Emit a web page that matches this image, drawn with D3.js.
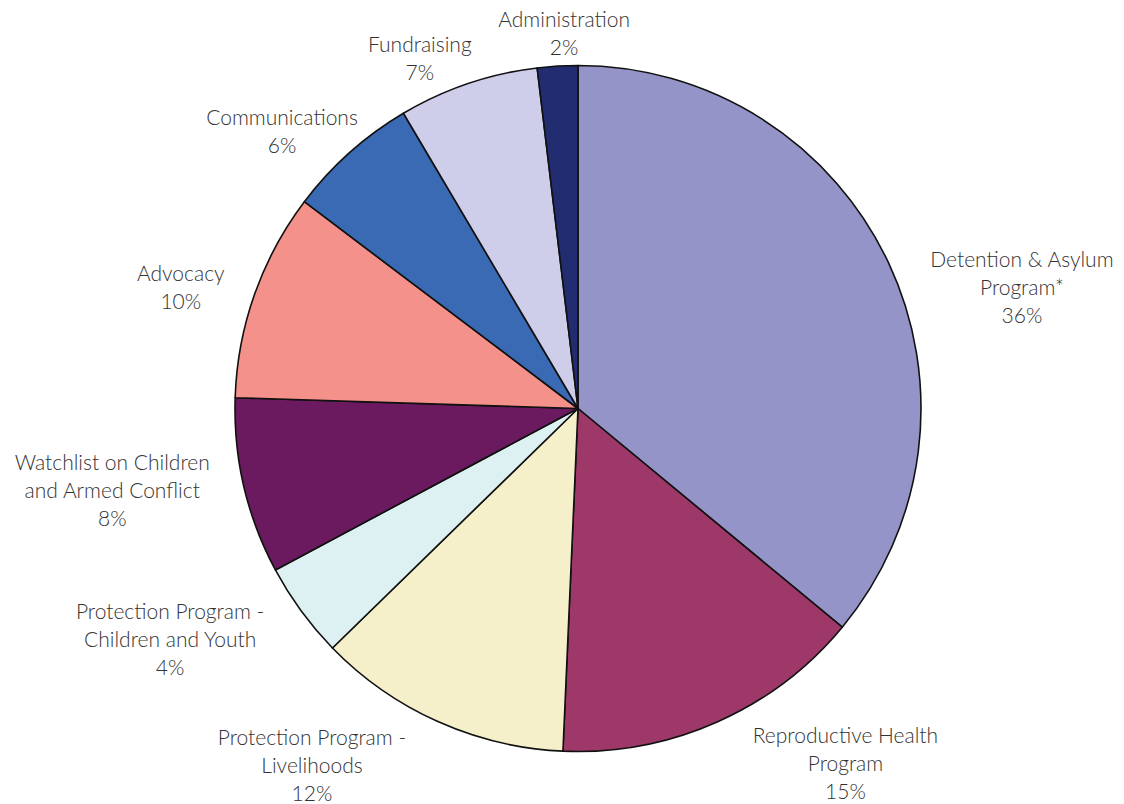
<!DOCTYPE html>
<html>
<head>
<meta charset="utf-8">
<script src="https://cdn.jsdelivr.net/npm/d3@7"></script>
<style>
  html, body { margin: 0; padding: 0; background: #fff; }
  svg text { font-family: Lato, "Open Sans", sans-serif; font-weight: 300; fill: #333; }
</style>
</head>
<body>
<svg id="main_chart" width="1124" height="804"></svg>
<script>
// slices, clockwise from 12 o'clock
const categories = [
  ['Detention & Asylum', 'Program*'],
  ['Reproductive Health', 'Program'],
  ['Protection Program -', 'Livelihoods'],
  ['Protection Program -', 'Children and Youth'],
  ['Watchlist on Children', 'and Armed Conflict'],
  ['Advocacy'],
  ['Communications'],
  ['Fundraising'],
  ['Administration']
];
const shares = [36, 14.7, 12, 4.5, 8.3, 9.8, 6.2, 6.6, 1.9];
const pctLabels = ['36%', '15%', '12%', '4%', '8%', '10%', '6%', '7%', '2%'];
const colors = ['#9494c8', '#9d3868', '#f6f0ca', '#ddf0f2', '#6b1a5f', '#f4918b', '#3a6ab3', '#cecdea', '#222c70'];

// label placement: [degrees added to the slice mid angle, distance from centre]
const labelNudge = [[10, 460], [-13, 445], [12.5, 446], [6.6, 469], [3.1, 473], [-2.6, 415], [-5.2, 405], [-5.6, 384], [1.3, 375]];

const cx = 578, cy = 408.5, radius = 343;
const lineH = 28;

const svg = d3.select('#main_chart');
const g = svg.append('g').attr('transform', 'translate(' + cx + ',' + cy + ')');

const pie = d3.pie().sort(null).value(function(d) { return d; });
const arc = d3.arc().innerRadius(0).outerRadius(radius);
const arcs = pie(shares);

g.selectAll('path.slice').data(arcs).enter().append('path')
  .attr('class', 'slice')
  .attr('d', arc)
  .attr('fill', function(d, i) { return colors[i]; })
  .attr('stroke', '#111')
  .attr('stroke-width', 1.6)
  .attr('stroke-linejoin', 'round');

const labels = g.selectAll('text.label').data(arcs).enter().append('text')
  .attr('class', 'label')
  .attr('text-anchor', 'middle')
  .style('font-size', '21px')
  .attr('transform', function(d, i) {
    const a = (d.startAngle + d.endAngle) / 2 + labelNudge[i][0] * Math.PI / 180;
    const r = labelNudge[i][1];
    return 'translate(' + (r * Math.sin(a)) + ',' + (-r * Math.cos(a)) + ')';
  });

labels.each(function(d, i) {
  const lines = categories[i].concat([pctLabels[i]]);
  const top = -(lines.length - 1) * lineH / 2 + 7;
  const t = d3.select(this);
  lines.forEach(function(s, k) {
    t.append('tspan').attr('x', 0).attr('y', top + k * lineH).text(s);
  });
});
</script>
</body>
</html>
